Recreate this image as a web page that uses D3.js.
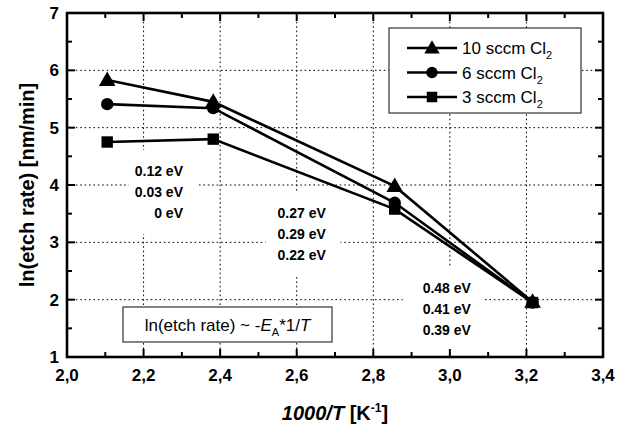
<!DOCTYPE html>
<html><head><meta charset="utf-8">
<script src="https://cdn.jsdelivr.net/npm/d3@7"></script>
<style>
html,body{margin:0;padding:0;background:#fff;}
svg{display:block;font-family:"Liberation Sans",Arial,sans-serif;}
</style></head>
<body>
<svg id="chart" width="624" height="432"></svg>
<script>
// ---- data ----
const invT = [2.105, 2.382, 2.856, 3.216];
const seriesNames = ["10 sccm Cl", "6 sccm Cl", "3 sccm Cl"];
const seriesSymbols = ["triangle", "circle", "square"];
const cl10 = [5.83, 5.45, 3.98, 1.96];
const cl6  = [5.41, 5.34, 3.69, 1.95];
const cl3  = [4.75, 4.80, 3.58, 1.95];
const xTicks = [2.0, 2.2, 2.4, 2.6, 2.8, 3.0, 3.2, 3.4];
const yTicks = [1, 2, 3, 4, 5, 6, 7];
const energyLow  = ["0.12 eV", "0.03 eV", "0 eV"];
const energyMid  = ["0.27 eV", "0.29 eV", "0.22 eV"];
const energyHigh = ["0.48 eV", "0.41 eV", "0.39 eV"];

// ---- layout ----
const W = 624, H = 432;
const m = {left: 67, top: 13, right: 21, bottom: 75};
const iw = W - m.left - m.right, ih = H - m.top - m.bottom;
const svg = d3.select("#chart");
const g = svg.append("g").attr("transform", `translate(${m.left},${m.top})`);

const x = d3.scaleLinear().domain([2.0, 3.4]).range([0, iw]);
const y = d3.scaleLinear().domain([1, 7]).range([ih, 0]);

// grid
const gridStyle = s => s.attr("stroke", "#000").attr("stroke-width", 1).attr("stroke-dasharray", "1.6,2.8");
g.append("g").selectAll("line").data(xTicks.slice(1, -1)).join("line")
  .attr("x1", d => x(d)).attr("x2", d => x(d)).attr("y1", 0).attr("y2", ih).call(gridStyle);
g.append("g").selectAll("line").data(yTicks.slice(1, -1)).join("line")
  .attr("y1", d => y(d)).attr("y2", d => y(d)).attr("x1", 0).attr("x2", iw).call(gridStyle);

// energy labels (white background boxes)
function energyBlock(lines, xr, yTop, padL, padR) {
  const bg = g.append("rect").attr("fill", "#fff");
  const t = g.append("g");
  lines.forEach((s, i) => {
    t.append("text").attr("x", x(xr)).attr("y", y(yTop) + i * 21)
      .attr("text-anchor", "end").attr("font-size", 14).attr("font-weight", "bold")
      .attr("dominant-baseline", "central").text(s);
  });
  const b = t.node().getBBox();
  bg.attr("x", b.x - padL).attr("y", b.y - 13).attr("width", b.width + padL + padR).attr("height", b.height + 26);
}
energyBlock(energyLow, 2.303, 5.0 - (171 - 13 - 57.33 * 2) / 57.33, 6, 15);
energyBlock(energyMid, 2.676, 7 - (213 - 13) / 57.33, 12, 14);
energyBlock(energyHigh, 3.055, 7 - (288 - 13) / 57.33, 20, 11);

// data lines
const series = [cl10, cl6, cl3];
const line = d3.line().x((d, i) => x(invT[i])).y(d => y(d));
series.forEach(s => {
  g.append("path").datum(s).attr("d", line).attr("fill", "none")
    .attr("stroke", "#000").attr("stroke-width", 2.6).attr("stroke-linejoin", "miter");
});
const symMap = {triangle: d3.symbolTriangle, circle: d3.symbolCircle, square: d3.symbolSquare};
const symSize = {triangle: 120, circle: 120, square: 130};
series.forEach((s, k) => {
  const sym = d3.symbol().type(symMap[seriesSymbols[k]]).size(symSize[seriesSymbols[k]]);
  g.append("g").selectAll("path").data(s).join("path")
    .attr("transform", (d, i) => `translate(${x(invT[i])},${y(d) + (seriesSymbols[k] === "triangle" ? 1 : 0)})`)
    .attr("d", sym).attr("fill", "#000");
});

// axes ticks (inward, mirrored)
const minorX = d3.range(2.1, 3.4, 0.2);
const minorY = d3.range(1.5, 7, 1);
const tk = g.append("g").attr("stroke", "#000").attr("stroke-width", 2);
xTicks.forEach(v => {
  tk.append("line").attr("x1", x(v)).attr("x2", x(v)).attr("y1", ih).attr("y2", ih - 8);
  tk.append("line").attr("x1", x(v)).attr("x2", x(v)).attr("y1", 0).attr("y2", 8);
});
minorX.forEach(v => {
  tk.append("line").attr("x1", x(v)).attr("x2", x(v)).attr("y1", ih).attr("y2", ih - 5);
  tk.append("line").attr("x1", x(v)).attr("x2", x(v)).attr("y1", 0).attr("y2", 5);
});
yTicks.forEach(v => {
  tk.append("line").attr("y1", y(v)).attr("y2", y(v)).attr("x1", 0).attr("x2", 8);
  tk.append("line").attr("y1", y(v)).attr("y2", y(v)).attr("x1", iw).attr("x2", iw - 8);
});
minorY.forEach(v => {
  tk.append("line").attr("y1", y(v)).attr("y2", y(v)).attr("x1", 0).attr("x2", 5);
  tk.append("line").attr("y1", y(v)).attr("y2", y(v)).attr("x1", iw).attr("x2", iw - 5);
});

// frame
g.append("rect").attr("x", 0).attr("y", 0).attr("width", iw).attr("height", ih)
  .attr("fill", "none").attr("stroke", "#000").attr("stroke-width", 2.6);

// tick labels
const fmt = d => d3.format(".1f")(d).replace(".", ",");
g.append("g").selectAll("text").data(xTicks).join("text")
  .attr("x", d => x(d)).attr("y", ih + 24).attr("text-anchor", "middle")
  .attr("font-size", 17).attr("font-weight", "bold").text(fmt);
g.append("g").selectAll("text").data(yTicks).join("text")
  .attr("x", -8).attr("y", d => y(d)).attr("dy", "0.36em").attr("text-anchor", "end")
  .attr("font-size", 17).attr("font-weight", "bold").text(d => d);

// axis titles
const xt = svg.append("text").attr("x", m.left + x(2.7)).attr("y", 420)
  .attr("text-anchor", "middle").attr("font-size", 20).attr("font-weight", "bold");
xt.append("tspan").attr("font-style", "italic").text("1000/T");
xt.append("tspan").text(" [K");
xt.append("tspan").attr("font-size", 12).attr("dy", -8).text("-1");
xt.append("tspan").attr("dy", 8).text("]");

svg.append("text").attr("transform", `translate(34,${m.top + ih / 2}) rotate(-90)`)
  .attr("text-anchor", "middle").attr("font-size", 20).attr("font-weight", "bold")
  .text("ln(etch rate) [nm/min]");

// legend
const lg = g.append("g").attr("transform", `translate(${389 - m.left},${28 - m.top})`);
lg.append("rect").attr("width", 192).attr("height", 85).attr("fill", "#fff")
  .attr("stroke", "#333").attr("stroke-width", 1.2);
seriesNames.forEach((nm, k) => {
  const ry = 20 + k * 24.5;
  lg.append("line").attr("x1", 18).attr("x2", 68).attr("y1", ry).attr("y2", ry)
    .attr("stroke", "#000").attr("stroke-width", 2.6);
  lg.append("path").attr("transform", `translate(43,${ry + (seriesSymbols[k] === "triangle" ? 1 : 0)})`)
    .attr("d", d3.symbol().type(symMap[seriesSymbols[k]]).size(symSize[seriesSymbols[k]] * 0.85)).attr("fill", "#000");
  const t = lg.append("text").attr("x", 73).attr("y", ry).attr("dy", "0.36em").attr("font-size", 17);
  t.append("tspan").text(nm);
  t.append("tspan").attr("font-size", 11).attr("dy", 5).text("2");
});

// formula box
const fb = g.append("g").attr("transform", `translate(${123 - m.left},${307 - m.top})`);
fb.append("rect").attr("width", 209).attr("height", 35).attr("fill", "#fff")
  .attr("stroke", "#333").attr("stroke-width", 1.2);
const ft = fb.append("text").attr("x", 104.5).attr("y", 18).attr("dy", "0.36em")
  .attr("text-anchor", "middle").attr("font-size", 17);
ft.append("tspan").text("ln(etch rate) ~ -");
ft.append("tspan").attr("font-style", "italic").text("E");
ft.append("tspan").attr("font-size", 11).attr("dy", 5).text("A");
ft.append("tspan").attr("dy", -5).text("*1/");
ft.append("tspan").attr("font-style", "italic").text("T");
</script>
</body></html>
